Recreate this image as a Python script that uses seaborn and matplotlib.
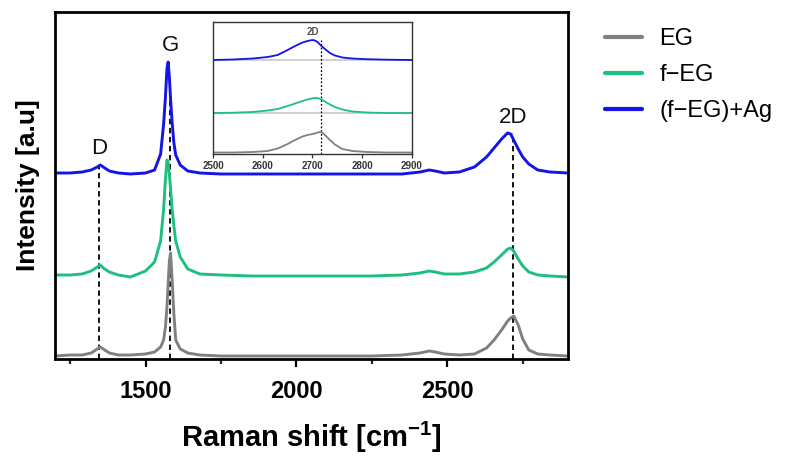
#!/usr/bin/env python3
"""Raman spectra of EG, f-EG and (f-EG)+Ag with a zoomed 2D-band inset."""

import matplotlib
matplotlib.use("Agg")
import matplotlib.pyplot as plt
from matplotlib.font_manager import FontProperties
import seaborn as sns
import pandas as pd

# Raman shift positions (cm-1)
shift = [1200, 1250, 1290, 1320, 1340, 1350, 1360, 1380, 1410, 1450,
         1500, 1530, 1550, 1560, 1566, 1571, 1575, 1579, 1583, 1588,
         1594, 1600, 1615, 1640, 1680, 1750, 1850, 1950, 2050, 2150,
         2250, 2350, 2410, 2440, 2460, 2490, 2540, 2590, 2630, 2655,
         2680, 2700, 2710, 2720, 2735, 2750, 2770, 2800, 2840, 2900]

# offset intensities (arbitrary units, stacked)
eg = [3, 4, 4, 6, 10, 12, 10, 6, 4, 4,
      5, 7, 12, 19, 32, 52, 75, 98, 106, 80,
      45, 19, 10, 6, 4, 3, 3, 3, 3, 3,
      3, 4, 6, 8, 7, 5, 4, 5, 11, 19,
      29, 38, 41, 43, 34, 20, 9, 5, 4, 3]
f_eg = [84, 84, 85, 88, 92, 94, 91, 87, 84, 82,
        88, 97, 118, 150, 180, 199, 196, 185, 170, 150,
        133, 118, 102, 90, 85, 84, 83, 83, 83, 83,
        83, 84, 86, 88, 87, 85, 85, 87, 91, 97,
        104, 110, 111, 108, 100, 93, 87, 84, 83, 82]
f_eg_ag = [186, 186, 187, 189, 192, 194, 192, 188, 186, 185,
           186, 189, 205, 235, 262, 290, 297, 282, 260, 237,
           216, 204, 194, 188, 186, 185, 185, 185, 185, 185,
           185, 185, 187, 189, 188, 186, 187, 192, 202, 211,
           220, 226, 225, 219, 210, 202, 195, 189, 187, 186]

# inset: 2D band, 2500-2900 cm-1
shift_in = [2500, 2540, 2580, 2610, 2630, 2650, 2665, 2680, 2690, 2700, 2705,
            2710, 2718, 2725, 2735, 2745, 2760, 2780, 2810, 2850, 2900]
eg_in = [1.5, 1.5, 2, 3, 5.5, 10, 14, 17.5, 19, 20, 20.5,
         21.5, 22, 19, 14, 9.5, 5, 3, 2, 1.5, 1.5]
f_eg_in = [41, 41.3, 42, 43.5, 45, 48, 50.5, 53, 54.5, 55.7, 56,
           56, 54.5, 52.5, 49.5, 47, 44.5, 42.5, 41.5, 41, 41]
f_eg_ag_in = [94, 94.5, 95.5, 97, 99, 104, 108, 111.5, 113, 114, 113.5,
              112, 108, 105, 101, 98.5, 96.5, 95.5, 94.8, 94.3, 94]
inset_baselines = [41, 94]

samples = ["EG", "f\u2212EG", "(f\u2212EG)+Ag"]
colors = ["#808080", "#1fbf80", "#1414e6"]

# band markers: (label, position, top of dashed line, label height)
bands = [("D", 1347, 194, 210), ("G", 1582, 262, 313), ("2D", 2717, 226, 241)]


def long_frame(x, series):
    frames = []
    for name, vals in zip(samples, series):
        frames.append(pd.DataFrame({"shift": x, "intensity": vals, "sample": name}))
    return pd.concat(frames, ignore_index=True)


def bold_font(size):
    return FontProperties(family="Liberation Sans", weight="bold",
                          stretch="normal", size=size)


def main():
    sns.set_theme(style="ticks")
    plt.rcParams["font.family"] = ["Liberation Sans", "DejaVu Sans"]
    plt.rcParams["text.color"] = "black"
    plt.rcParams["axes.labelcolor"] = "black"
    plt.rcParams["mathtext.fontset"] = "custom"
    plt.rcParams["mathtext.bf"] = "Liberation Sans:bold"
    plt.rcParams["mathtext.default"] = "bf"

    fig = plt.figure(figsize=(7.92, 4.65), dpi=100)
    ax = fig.add_axes([0.06944, 0.22796, 0.64773, 0.74624])

    df = long_frame(shift, [eg, f_eg, f_eg_ag])
    sns.lineplot(data=df, x="shift", y="intensity", hue="sample",
                 hue_order=samples, palette=colors, estimator=None,
                 sort=False, lw=2.1, ax=ax, legend=False)

    for label, pos, top, ytxt in bands:
        ax.plot([pos, pos], [0, top], color="black", lw=1.3,
                ls=(0, (3, 2)), zorder=1)
        ax.text(pos, ytxt, label, ha="center", va="center",
                fontsize=16, color="#111111")

    ax.set_xlim(1200, 2900)
    ax.set_ylim(0, 347)
    ax.set_xticks([1500, 2000, 2500])
    ax.set_xticks([1250, 1750, 2250, 2750], minor=True)
    ax.set_xticklabels(["1500", "2000", "2500"], fontproperties=bold_font(17))
    ax.set_yticks([])
    ax.tick_params(axis="x", which="major", length=6, width=1.6,
                   pad=9, colors="black")
    ax.tick_params(axis="x", which="minor", length=3.5, width=1.6)
    for sp in ax.spines.values():
        sp.set_visible(True)
        sp.set_linewidth(2.0)
        sp.set_color("black")

    ax.set_xlabel("Raman shift [cm$^{-1}$]", fontproperties=bold_font(21),
                  labelpad=12)
    ax.set_ylabel("Intensity [a.u]", fontproperties=bold_font(19),
                  labelpad=11)

    # legend outside on the right
    handles = [plt.Line2D([], [], color=c, lw=3) for c in colors]
    fig.legend(handles, samples, loc="upper left",
               bbox_to_anchor=(605 / 792, 1 - 28 / 465), frameon=False,
               fontsize=17, handlelength=1.55, handletextpad=0.75,
               labelspacing=0.6, borderpad=0, borderaxespad=0)

    # inset with the 2D band
    ax_in = fig.add_axes([0.26894, 0.66882, 0.25126, 0.28387])
    for b in inset_baselines:
        ax_in.axhline(b, color="#c8c8c8", lw=1.2, zorder=1)
    df_in = long_frame(shift_in, [eg_in, f_eg_in, f_eg_ag_in])
    sns.lineplot(data=df_in, x="shift", y="intensity", hue="sample",
                 hue_order=samples, palette=colors, estimator=None,
                 sort=False, lw=1.3, ax=ax_in, legend=False)
    ax_in.plot([2718, 2718], [0, 114], color="black", lw=0.9,
               ls=(0, (1.5, 1.5)), zorder=1)
    ax_in.text(2701, 122, "2D", ha="center", va="center",
               fontproperties=bold_font(7), color="#555555")
    ax_in.set_xlim(2500, 2900)
    ax_in.set_ylim(0, 132)
    ax_in.set_xticks([2500, 2600, 2700, 2800, 2900])
    ax_in.set_xticklabels(["2500", "2600", "2700", "2800", "2900"],
                          fontproperties=bold_font(7))
    ax_in.set_yticks([])
    ax_in.set_xlabel("")
    ax_in.set_ylabel("")
    ax_in.tick_params(axis="x", length=3, width=0.9, pad=2, colors="#333333")
    for sp in ax_in.spines.values():
        sp.set_visible(True)
        sp.set_linewidth(1.0)
        sp.set_color("#333333")

    fig.savefig("out.png", dpi=100)
    plt.close(fig)


if __name__ == "__main__":
    main()
